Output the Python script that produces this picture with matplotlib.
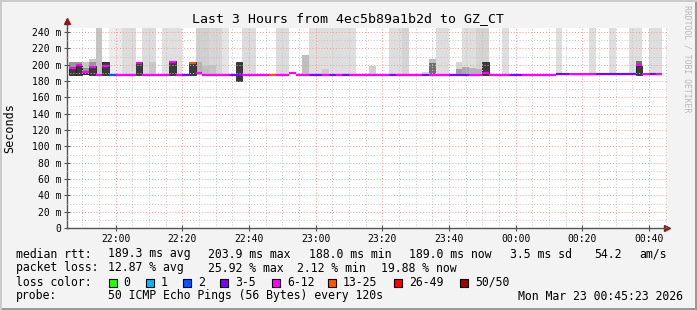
import numpy as np
import matplotlib
matplotlib.use('Agg')
import matplotlib.pyplot as plt
from matplotlib.patches import Rectangle

plt.rcParams['font.family'] = ['DejaVu Sans Mono']

W, H = 697, 310

# one entry per 2-minute step, start time in minutes after 22:00
step_start = np.arange(-14, 164, 2)

median_ms = [196.3, 199.6, 190.6, 197.5, 188.0, 198.8, 188.0, 188.0, 188.0, 188.0,
             202.5, 188.0, 188.0, 188.0, 188.0, 203.7, 188.0, 188.0, 202.5, 189.5,
             188.0, 188.0, 188.0, 188.0, 188.0, 188.0, 188.0, 188.0, 188.0, 188.0,
             188.0, 188.0, 188.0, 189.4, 188.0, 188.0, 188.0, 188.0, 188.0, 188.0,
             188.0, 188.0, 188.0, 188.0, 188.0, 188.0, 188.0, 188.0, 188.0, 188.0,
             188.0, 188.0, 188.0, 188.0, 188.0, 188.0, 188.0, 188.0, 188.0, 188.0,
             188.0, 188.0, 189.5, 188.0, 188.0, 188.0, 188.0, 188.0, 188.0, 188.0,
             188.0, 188.0, 188.0, 189.2, 189.2, 189.2, 189.2, 189.2, 189.2, 189.2,
             189.2, 189.2, 189.2, 189.2, 189.2, 199.6, 189.2, 189.2, 189.2]

# index into loss_labels / loss_colors
loss_idx = [4, 4, 4, 4, 4, 4, 2, 4, 4, 4,
            4, 4, 4, 4, 4, 4, 4, 3, 5, 4,
            4, 4, 4, 4, 3, 3, 4, 4, 4, 4,
            5, 4, 4, 4, 4, 4, 3, 3, 4, 3,
            4, 3, 4, 4, 4, 4, 4, 4, 3, 4,
            4, 4, 4, 3, 4, 4, 4, 3, 3, 3,
            4, 4, 4, 4, 4, 4, 3, 3, 4, 4,
            4, 4, 4, 3, 3, 4, 4, 4, 4, 3,
            3, 3, 3, 3, 3, 4, 4, 3, 4]

# light smoke (slowest pings), 0 = none, 250 = beyond the chart top
light_top = [0, 0, 203, 207, 250, 0, 250, 250, 250, 250,
             0, 250, 250, 0, 250, 250, 250, 0, 0, 250,
             250, 250, 250, 250, 0, 0, 250, 250, 0, 0,
             0, 250, 250, 0, 0, 0, 250, 250, 250, 250,
             250, 250, 250, 0, 0, 0, 0, 0, 250, 250,
             250, 0, 0, 0, 207, 250, 250, 0, 203.7, 250,
             250, 250, 250, 0, 0, 250, 0, 0, 0, 0,
             0, 0, 0, 250, 0, 0, 0, 0, 250, 0,
             0, 250, 0, 0, 250, 250, 0, 250, 250]
light_grey = [0, 0, 200, 200, 196, 0, 236, 234, 220, 220,
              0, 220, 220, 0, 224, 224, 224, 0, 0, 208,
              208, 214, 214, 228, 0, 0, 220, 220, 0, 0,
              0, 220, 220, 0, 0, 0, 222, 222, 222, 222,
              222, 222, 222, 0, 0, 0, 0, 0, 222, 222,
              212, 0, 0, 0, 192, 222, 222, 0, 214, 222,
              222, 212, 212, 0, 0, 222, 0, 0, 0, 0,
              0, 0, 0, 222, 0, 0, 0, 0, 222, 0,
              0, 222, 0, 0, 222, 222, 0, 222, 222]

# denser smoke
smoke_top = [203, 203, 196, 203, 0, 203, 0, 0, 0, 0,
             0, 0, 203, 0, 0, 0, 0, 0, 0, 203,
             198, 200, 0, 0, 0, 0, 0, 0, 0, 0,
             0, 0, 0, 0, 0, 212, 0, 0, 194.6, 0,
             0, 0, 0, 0, 0, 198.8, 0, 0, 0, 0,
             0, 0, 0, 191, 202.5, 0, 0, 0, 195, 197,
             196, 195, 0, 0, 0, 0, 0, 0, 0, 0,
             0, 0, 0, 0, 0, 0, 0, 0, 0, 0,
             0, 0, 0, 0, 0, 204, 0, 0, 0]
smoke_grey = [150, 150, 150, 150, 0, 150, 0, 0, 0, 0,
              0, 0, 200, 0, 0, 0, 0, 0, 0, 180,
              190, 196, 0, 0, 0, 0, 0, 0, 0, 0,
              0, 0, 0, 0, 0, 190, 0, 0, 205, 0,
              0, 0, 0, 0, 0, 208, 0, 0, 0, 0,
              0, 0, 0, 216, 112, 0, 0, 0, 160, 170,
              180, 180, 0, 0, 0, 0, 0, 0, 0, 0,
              0, 0, 0, 0, 0, 0, 0, 0, 0, 0,
              0, 0, 0, 0, 0, 110, 0, 0, 0]

# dark core of the smoke, 0 = none
box_lo = [188, 188, 189, 188, 0, 188, 0, 0, 0, 0,
          188, 0, 0, 0, 0, 188, 0, 0, 188, 0,
          0, 0, 0, 0, 0, 180, 0, 0, 0, 0,
          0, 0, 0, 0, 0, 0, 0, 0, 0, 0,
          0, 0, 0, 0, 0, 0, 0, 0, 0, 0,
          0, 0, 0, 0, 0, 0, 0, 0, 0, 0,
          0, 0, 188, 0, 0, 0, 0, 0, 0, 0,
          0, 0, 0, 0, 0, 0, 0, 0, 0, 0,
          0, 0, 0, 0, 0, 188, 0, 0, 0]
box_hi = [197, 200, 192, 198, 0, 203, 0, 0, 0, 0,
          203, 0, 0, 0, 0, 204, 0, 0, 203, 0,
          0, 0, 0, 0, 0, 203, 0, 0, 0, 0,
          0, 0, 0, 0, 0, 0, 0, 0, 0, 0,
          0, 0, 0, 0, 0, 0, 0, 0, 0, 0,
          0, 0, 0, 0, 0, 0, 0, 0, 0, 0,
          0, 0, 203, 0, 0, 0, 0, 0, 0, 0,
          0, 0, 0, 0, 0, 0, 0, 0, 0, 0,
          0, 0, 0, 0, 0, 198, 0, 0, 0]

loss_labels = ['0', '1', '2', '3-5', '6-12', '13-25', '26-49', '50/50']
loss_colors = ['#26ff00', '#00b8ff', '#0059ff', '#7e00ff', '#ff00ff', '#ff5500', '#ff0000', '#a10000']

x_ticks = [0, 20, 40, 60, 80, 100, 120, 140, 160]
x_labels = ['22:00', '22:20', '22:40', '23:00', '23:20', '23:40', '00:00', '00:20', '00:40']
y_ticks = list(range(0, 241, 20))
y_labels = ['0'] + ['%d m' % v for v in y_ticks[1:]]

rtt_stats = ['189.3 ms avg', '203.9 ms max', '188.0 ms min', '189.0 ms now', '3.5 ms sd', '54.2', 'am/s']
loss_stats = ['12.87 % avg', '25.92 % max', '2.12 % min', '19.88 % now']


def grey(v):
    return '#%02x%02x%02x' % (v, v, v)


fig = plt.figure(figsize=(W / 100, H / 100), dpi=100, facecolor='#f3f3f3')
ax = fig.add_axes([67 / W, (H - 228) / H, 600 / W, 200 / H])
ax.set_facecolor('white')

t = np.asarray(step_start)
lt = np.asarray(light_top, float)
m = lt > 0
ax.bar(t[m], lt[m] - 187, bottom=187, width=2, align='edge', linewidth=0,
       color=[grey(g) for g, k in zip(light_grey, m) if k], zorder=1)
st = np.asarray(smoke_top, float)
m = st > 0
ax.bar(t[m], st[m] - 187, bottom=187, width=2, align='edge', linewidth=0,
       color=[grey(g) for g, k in zip(smoke_grey, m) if k], zorder=1.1)
bl = np.asarray(box_lo, float)
bh = np.asarray(box_hi, float)
m = bh > 0
ax.bar(t[m], bh[m] - bl[m], bottom=bl[m], width=2, align='edge', color='#3a3a3a',
       edgecolor='#111111', linewidth=0.5, zorder=1.2)
ax.hlines(median_ms, t, t + 2, colors=[loss_colors[k] for k in loss_idx], linewidth=1.6, zorder=3)

ax.set_xlim(-14.6, 165.4)
ax.set_ylim(0, 245)
ax.set_xticks(x_ticks)
ax.set_xticklabels(x_labels)
ax.set_xticks(np.arange(-10, 166, 5), minor=True)
ax.set_yticks(y_ticks)
ax.set_yticklabels(y_labels)
ax.set_yticks(np.arange(0, 245, 10), minor=True)
ax.tick_params(which='major', direction='inout', length=4, width=0.8, color='#555555',
               labelsize=7, pad=2)
ax.tick_params(which='minor', length=0)
ax.set_axisbelow(False)
ax.grid(which='minor', color='#c4c4c4', linestyle=(0, (1, 2)), linewidth=0.7)
ax.grid(which='major', color='#f29a9a', linestyle=(0, (1, 2)), linewidth=0.7)
for s in ['top', 'right']:
    ax.spines[s].set_visible(False)
for s in ['left', 'bottom']:
    ax.spines[s].set_color('#555555')
    ax.spines[s].set_linewidth(1)

# axis arrows
ax.plot([0, 0], [1, 1.035], transform=ax.transAxes, color='#555555', lw=1, clip_on=False)
ax.plot([0], [1.035], transform=ax.transAxes, marker='^', color='#8b1a1a', markersize=4, clip_on=False)
ax.plot([1.0], [0], transform=ax.transAxes, marker='>', color='#8b1a1a', markersize=4, clip_on=False)

# title and labels
fig.text(348.5 / W, 1 - 19 / H, 'Last 3 Hours from 4ec5b89a1b2d to GZ_CT', ha='center', va='center',
         fontsize=9.5, color='#000000')
fig.text(10 / W, 1 - 128 / H, 'Seconds', rotation=90, ha='center', va='center', fontsize=8.5)
fig.text(687 / W, 1 - 59 / H, 'RRDTOOL / TOBI OETIKER', rotation=270, ha='center', va='center',
         fontsize=5.9, color='#b8b8b8')

# legend rows
fs = 8.3
fig.text(16 / W, 1 - 254 / H, 'median rtt:', ha='left', va='center', fontsize=fs)
for xp, s in zip([108, 208, 309, 409, 510, 594, 639], rtt_stats):
    fig.text(xp / W, 1 - 254 / H, s, ha='left', va='center', fontsize=fs)
fig.text(16 / W, 1 - 268 / H, 'packet loss:', ha='left', va='center', fontsize=fs)
for xp, s in zip([108, 208, 297, 381], loss_stats):
    fig.text(xp / W, 1 - 268 / H, s, ha='left', va='center', fontsize=fs)
fig.text(16 / W, 1 - 282 / H, 'loss color:', ha='left', va='center', fontsize=fs)
box_x = [108.5, 146, 183, 220, 272, 328, 394, 460]
for xp, lab, c in zip(box_x, loss_labels, loss_colors):
    fig.add_artist(Rectangle((xp / W, 1 - 286.5 / H), 8 / W, 8 / H, transform=fig.transFigure,
                             facecolor=c, edgecolor='black', linewidth=0.8))
    fig.text((xp + 15) / W, 1 - 282 / H, lab, ha='left', va='center', fontsize=fs)
fig.text(16 / W, 1 - 296 / H, 'probe:', ha='left', va='center', fontsize=fs)
fig.text(108 / W, 1 - 296 / H, '50 ICMP Echo Pings (56 Bytes) every 120s', ha='left', va='center', fontsize=fs)
fig.text(683 / W, 1 - 296 / H, 'Mon Mar 23 00:45:23 2026', ha='right', va='center', fontsize=fs)

# frame around the image
fig.add_artist(Rectangle((0, 0), 1, 2 / H, transform=fig.transFigure, color='#999999', lw=0))
fig.add_artist(Rectangle((1 - 2 / W, 0), 2 / W, 1, transform=fig.transFigure, color='#999999', lw=0))
fig.add_artist(Rectangle((0, 1 - 2 / H), 1, 2 / H, transform=fig.transFigure, color='#cbcbcb', lw=0))
fig.add_artist(Rectangle((0, 0), 2 / W, 1, transform=fig.transFigure, color='#cbcbcb', lw=0))

fig.savefig('out.png', dpi=100, facecolor=fig.get_facecolor())
